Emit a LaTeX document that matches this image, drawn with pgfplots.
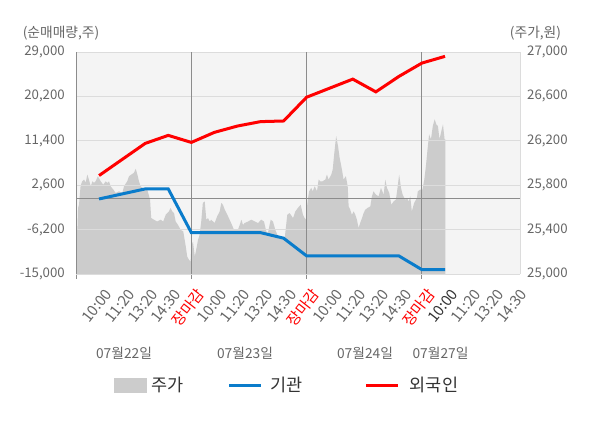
\documentclass[border=0pt]{standalone}
\usepackage{pgfplots}
\pgfplotsset{compat=1.18}
\usepackage{fontspec}
\setmainfont{Noto Sans CJK KR}
\definecolor{bgcol}{HTML}{F4F4F4}
\definecolor{areacol}{HTML}{CCCCCC}
\definecolor{gridcol}{HTML}{DCDCDC}
\definecolor{darkgrid}{HTML}{8C8C8C}
\definecolor{labcol}{HTML}{666666}
\definecolor{blueline}{HTML}{0A7CCB}
\definecolor{redline}{HTML}{FF0000}
\definecolor{legtext}{HTML}{333333}
\newcommand{\tf}{\fontsize{13.75bp}{16bp}\selectfont}
\newcommand{\yf}{\fontsize{13.25bp}{16bp}\selectfont}
\newcommand{\xf}{\fontsize{15bp}{17bp}\selectfont}
\newcommand{\lf}{\fontsize{17.5bp}{20bp}\selectfont}

\pgfplotstableread{
x y
0 25000
0 25398
0.06 25398
0.09 25595
0.13 25624
0.20 25796
0.27 25835
0.35 25851
0.42 25824
0.49 25896
0.56 25851
0.64 25790
0.71 25835
0.78 25821
0.85 25835
0.95 25881
1.07 25835
1.18 25805
1.29 25835
1.36 25821
1.43 25835
1.50 25790
1.62 25760
1.72 25730
1.86 25745
2.01 25730
2.08 25790
2.22 25835
2.30 25881
2.40 25896
2.51 25911
2.59 25948
2.66 25896
2.73 25835
2.80 25790
2.95 25767
3.09 25760
3.21 25670
3.26 25504
3.38 25489
3.52 25473
3.67 25489
3.78 25473
3.89 25534
4.03 25564
4.10 25595
4.17 25564
4.25 25549
4.32 25473
4.42 25443
4.54 25398
4.65 25383
4.76 25247
4.82 25157
4.90 25127
4.97 25111
5.00 25247
5.07 25292
5.15 25157
5.21 25217
5.29 25308
5.36 25353
5.43 25473
5.50 25640
5.58 25654
5.65 25489
5.72 25504
5.80 25473
5.86 25489
6.01 25459
6.12 25519
6.23 25564
6.30 25640
6.37 25624
6.45 25579
6.56 25534
6.66 25489
6.76 25443
6.85 25398
7.02 25398
7.10 25443
7.17 25489
7.24 25443
7.31 25459
7.46 25473
7.60 25489
7.75 25473
7.89 25459
8.03 25489
8.15 25473
8.25 25383
8.32 25368
8.44 25489
8.54 25473
8.64 25398
8.76 25338
8.90 25323
9.05 25323
9.16 25534
9.26 25549
9.41 25504
9.51 25564
9.62 25595
9.74 25624
9.84 25534
9.91 25504
9.98 25489
10.01 25595
10.06 25685
10.11 25745
10.20 25776
10.26 25745
10.35 25790
10.45 25745
10.52 25851
10.59 25835
10.69 25835
10.81 25851
10.88 25896
10.95 25851
11.07 25896
11.13 25941
11.20 26092
11.28 26243
11.36 26152
11.43 26047
11.53 25941
11.60 25851
11.70 25881
11.78 25790
11.82 25609
11.89 25579
11.96 25534
12.04 25564
12.11 25534
12.18 25489
12.25 25414
12.32 25459
12.40 25504
12.47 25549
12.54 25579
12.64 25595
12.76 25609
12.83 25700
12.90 25745
13.00 25715
13.12 25700
13.22 25776
13.34 25715
13.41 25851
13.48 25776
13.58 25730
13.67 25624
13.77 25654
13.87 25670
13.94 25776
14.01 25896
14.09 25776
14.16 25715
14.27 25670
14.35 25685
14.43 25654
14.49 25700
14.56 25564
14.66 25640
14.78 25685
14.82 25745
14.92 25760
15.02 25760
15.10 25851
15.17 25971
15.24 26122
15.31 26258
15.39 26213
15.47 26333
15.55 26394
15.62 26348
15.69 26333
15.76 26213
15.84 26288
15.91 26348
15.98 26213
16.01 26213
16.01 25000
}\pricetable

\begin{document}
\begin{tikzpicture}[x=1bp,y=1bp]
\path[use as bounding box] (0,0) rectangle (600,428);
% ---------- price axis (right) ----------
\begin{axis}[
  at={(76bp,154bp)}, anchor=south west,
  width=444bp, height=222bp, scale only axis,
  xmin=0, xmax=19.25, ymin=25000, ymax=27000,
  axis x line*=bottom, axis y line*=right,
  x axis line style={draw=darkgrid, line width=1bp, -},
  y axis line style={draw=gridcol, line width=1bp, -},
  axis background/.style={fill=bgcol},
  scaled x ticks=false, scaled y ticks=false,
  /pgf/number format/assume math mode=true,
  ytick={25000,25400,25800,26200,26600,27000},
  yticklabels={{25,000},{25,400},{25,800},{26,200},{26,600},{27,000}},
  yticklabel style={font=\yf, text=labcol, inner sep=0pt, anchor=west, xshift=7bp},
  xtick={1,2,3,4,5,6,7,8,9,10,11,12,13,14,15,16,17,18,19},
  xticklabels={10:00,11:20,13:20,14:30,\textcolor{redline}{장마감},
               10:00,11:20,13:20,14:30,\textcolor{redline}{장마감},
               10:00,11:20,13:20,14:30,\textcolor{redline}{장마감},
               \textcolor{legtext}{10:00},11:20,13:20,14:30},
  xticklabel style={font=\xf, text=labcol, inner sep=0pt, xshift=9.5bp, yshift=-17bp, rotate=52, anchor=east},
  major tick length=0pt,
  tick align=outside,
  extra x ticks={0,5,10,15},
  extra x tick labels={},
  extra x tick style={major tick length=4.5bp, tick style={draw=darkgrid, line width=1bp}},
  clip=true,
]
\addplot[fill=areacol, draw=none] table[x=x, y=y] {\pricetable};
\end{axis}
% ---------- net buying axis (left) ----------
\begin{axis}[
  at={(76bp,154bp)}, anchor=south west,
  width=444bp, height=222bp, scale only axis,
  xmin=0, xmax=19.25, ymin=-15000, ymax=29000,
  axis x line*=bottom, axis y line*=left,
  x axis line style={draw=none, -},
  y axis line style={draw=darkgrid, line width=1bp, -},
  scaled x ticks=false, scaled y ticks=false,
  /pgf/number format/assume math mode=true,
  ytick={-15000,-6200,2600,11400,20200,29000},
  yticklabels={{-15,000},{-6,200},{2,600},{11,400},{20,200},{29,000}},
  yticklabel style={font=\yf, text=labcol, inner sep=0pt, anchor=east, xshift=-11bp},
  ymajorgrids,
  major grid style={draw=gridcol, line width=1bp},
  xtick=\empty,
  major tick length=0pt,
  extra x ticks={5,10,15},
  extra x tick labels={},
  extra x tick style={grid=major, major grid style={draw=darkgrid, line width=1bp}, major tick length=0pt},
  extra y ticks={0},
  extra y tick labels={},
  extra y tick style={grid=major, major grid style={draw=darkgrid, line width=1bp}, major tick length=0pt},
  legend columns=3,
  legend style={at={(0.0856,-0.502)}, anchor=west, draw=none, fill=none,
    inner sep=0pt, outer sep=0pt, font=\lf, text=legtext,
    nodes={inner sep=0pt}, column sep=0pt, cells={anchor=west}},
]
\addlegendimage{legend image code/.code={\fill[areacol] (0bp,-7.2bp) rectangle (32bp,7.2bp);}}
\addlegendentry{\kern5bp 주가\kern44bp\null}
\addplot[blueline, line width=3bp, mark=none,
  legend image code/.code={\draw[blueline, line width=3bp] (0bp,0bp) -- (32bp,0bp);}]
  coordinates {(1,-127) (2,868) (3,1864) (4,1864) (5,-6800) (6,-6800) (7,-6800) (8,-6800) (9,-7900) (10,-11416) (11,-11416) (12,-11416) (13,-11416) (14,-11416) (15,-14150) (16,-14150)};
\addlegendentry{\kern8bp 기관\kern62bp\null}
\addplot[redline, line width=3bp, mark=none,
  legend image code/.code={\draw[redline, line width=3bp] (0bp,0bp) -- (32bp,0bp);}]
  coordinates {(1,4511) (2,7700) (3,10883) (4,12476) (5,11082) (6,13073) (7,14327) (8,15200) (9,15327) (10,20042) (11,21834) (12,23625) (13,21100) (14,24160) (15,26811) (16,28140)};
\addlegendentry{\kern10bp 외국인}
\end{axis}
% ---------- titles and dates ----------
\node[font=\tf, text=labcol] at (61,395) {(순매매량,주)};
\node[font=\tf, text=labcol] at (535.5,395) {(주가,원)};
\node[font=\tf, text=labcol] at (124,75) {07월22일};
\node[font=\tf, text=labcol] at (245,75) {07월23일};
\node[font=\tf, text=labcol] at (365,75) {07월24일};
\node[font=\tf, text=labcol] at (440.5,75) {07월27일};
\end{tikzpicture}
\end{document}
